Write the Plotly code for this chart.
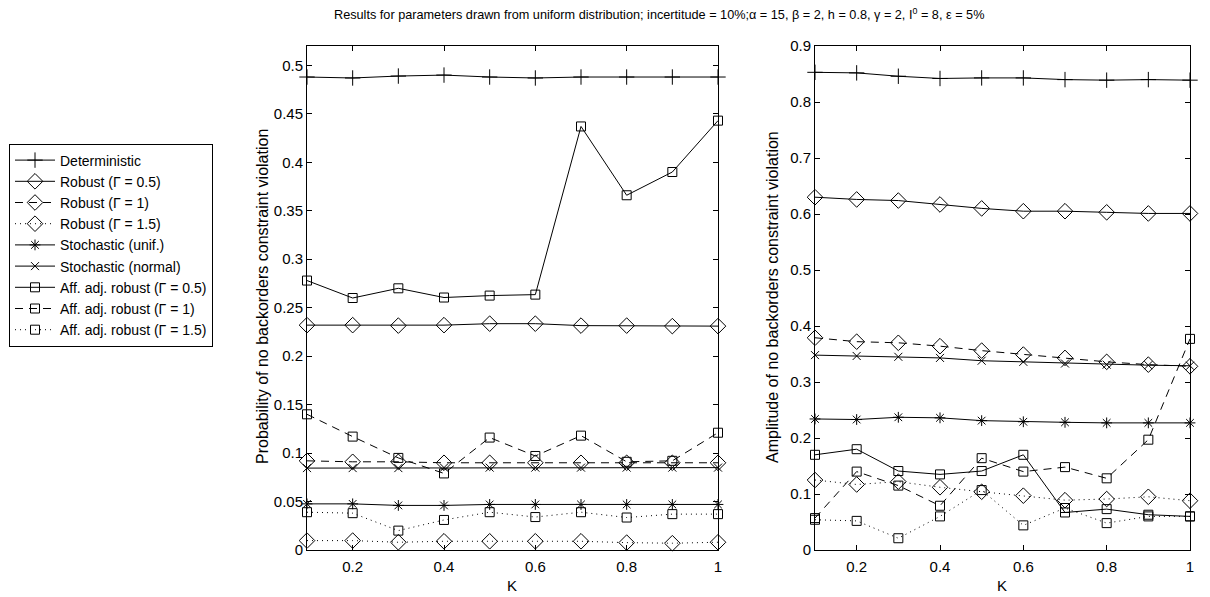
import plotly.graph_objects as go

K = [0.1, 0.2, 0.3, 0.4, 0.5, 0.6, 0.7, 0.8, 0.9, 1.0]

names = ["Deterministic", "Robust (\u0393 = 0.5)", "Robust (\u0393 = 1)", "Robust (\u0393 = 1.5)",
         "Stochastic (unif.)", "Stochastic (normal)", "Aff. adj. robust (\u0393 = 0.5)",
         "Aff. adj. robust (\u0393 = 1)", "Aff. adj. robust (\u0393 = 1.5)"]

# Probability of no backorders constraint violation
det_p = [0.488, 0.487, 0.489, 0.490, 0.488, 0.487, 0.488, 0.488, 0.488, 0.488]
rob05_p = [0.232, 0.232, 0.2315, 0.232, 0.2335, 0.2335, 0.2315, 0.2315, 0.231, 0.231]
rob1_p = [0.092, 0.091, 0.091, 0.090, 0.090, 0.090, 0.090, 0.090, 0.090, 0.090]
rob15_p = [0.0097, 0.0097, 0.008, 0.009, 0.009, 0.009, 0.009, 0.0076, 0.007, 0.008]
stu_p = [0.0476, 0.0476, 0.046, 0.046, 0.047, 0.047, 0.047, 0.047, 0.047, 0.047]
stn_p = [0.0845, 0.0845, 0.0845, 0.085, 0.085, 0.085, 0.085, 0.085, 0.085, 0.085]
aar05_p = [0.278, 0.260, 0.270, 0.2605, 0.2625, 0.2635, 0.437, 0.366, 0.390, 0.443]
aar1_p = [0.140, 0.117, 0.095, 0.079, 0.116, 0.097, 0.118, 0.091, 0.092, 0.121]
aar15_p = [0.039, 0.038, 0.020, 0.031, 0.039, 0.034, 0.039, 0.0335, 0.037, 0.037]

# Amplitude of no backorders constraint violation
det_a = [0.853, 0.852, 0.846, 0.842, 0.843, 0.843, 0.840, 0.839, 0.840, 0.839]
rob05_a = [0.630, 0.626, 0.624, 0.617, 0.610, 0.605, 0.605, 0.603, 0.601, 0.601]
rob1_a = [0.379, 0.372, 0.370, 0.364, 0.356, 0.349, 0.343, 0.336, 0.331, 0.328]
rob15_a = [0.125, 0.117, 0.122, 0.112, 0.104, 0.097, 0.089, 0.091, 0.095, 0.088]
stu_a = [0.234, 0.233, 0.237, 0.236, 0.231, 0.229, 0.228, 0.227, 0.227, 0.227]
stn_a = [0.348, 0.3465, 0.345, 0.343, 0.338, 0.336, 0.333, 0.331, 0.330, 0.329]
aar05_a = [0.170, 0.180, 0.141, 0.135, 0.141, 0.170, 0.067, 0.073, 0.063, 0.060]
aar1_a = [0.057, 0.140, 0.115, 0.079, 0.164, 0.140, 0.148, 0.128, 0.197, 0.377]
aar15_a = [0.054, 0.052, 0.021, 0.060, 0.107, 0.044, 0.075, 0.048, 0.060, 0.060]

ytick_p = [0, 0.05, 0.1, 0.15, 0.2, 0.25, 0.3, 0.35, 0.4, 0.45, 0.5]
ytext_p = ["0", "0.05", "0.1", "0.15", "0.2", "0.25", "0.3", "0.35", "0.4", "0.45", "0.5"]
ytick_a = [0, 0.1, 0.2, 0.3, 0.4, 0.5, 0.6, 0.7, 0.8, 0.9]
ytext_a = ["0", "0.1", "0.2", "0.3", "0.4", "0.5", "0.6", "0.7", "0.8", "0.9"]
xtick = [0.2, 0.4, 0.6, 0.8, 1.0]
xtext = ["0.2", "0.4", "0.6", "0.8", "1"]

DASH = "8px,6px"
DOT = "1px,4px"
styles = [
    ("cross-thin-open", "solid", 11),
    ("diamond-open", "solid", 12),
    ("diamond-open", DASH, 12),
    ("diamond-open", DOT, 12),
    ("asterisk-open", "solid", 9),
    ("x-thin-open", "solid", 8),
    ("square-open", "solid", 9),
    ("square-open", DASH, 9),
    ("square-open", DOT, 9),
]

prob = [det_p, rob05_p, rob1_p, rob15_p, stu_p, stn_p, aar05_p, aar1_p, aar15_p]
ampl = [det_a, rob05_a, rob1_a, rob15_a, stu_a, stn_a, aar05_a, aar1_a, aar15_a]

FONT = "Liberation Sans, Arial, Helvetica, sans-serif"
fig = go.Figure()
for i, name in enumerate(names):
    sym, dash, size = styles[i]
    for j, (ys, xa, ya) in enumerate([(prob[i], "x", "y"), (ampl[i], "x2", "y2")]):
        fig.add_trace(go.Scatter(
            x=K, y=ys, xaxis=xa, yaxis=ya, name=name, legendgroup=name,
            showlegend=(j == 0), mode="lines+markers", cliponaxis=False,
            line=dict(color="black", width=1, dash=dash),
            marker=dict(symbol=sym, size=size, color="black",
                        line=dict(color="black", width=1)),
        ))

W, H = 1210, 597
axis_common = dict(showline=True, linecolor="black", linewidth=1, mirror="ticks",
                   ticks="inside", ticklen=5, tickcolor="black", showgrid=False,
                   zeroline=False, automargin=False,
                   tickfont=dict(family=FONT, size=15, color="black"))

fig.update_layout(
    template="none",
    width=W, height=H, margin=dict(l=0, r=0, t=0, b=0, pad=0, autoexpand=False),
    paper_bgcolor="white", plot_bgcolor="white",
    font=dict(family=FONT, size=14, color="black"),
    xaxis=dict(domain=[307 / W, 718 / W], range=[0.1, 1.0], tickvals=xtick, ticktext=xtext,
               anchor="y", ticklabelstandoff=3, **axis_common),
    yaxis=dict(domain=[1 - 550 / H, 1 - 46 / H], range=[0, 0.52], tickvals=ytick_p,
               ticktext=ytext_p, anchor="x", **axis_common),
    xaxis2=dict(domain=[815 / W, 1190 / W], range=[0.1, 1.0], tickvals=xtick, ticktext=xtext,
                anchor="y2", ticklabelstandoff=3, **axis_common),
    yaxis2=dict(domain=[1 - 550 / H, 1 - 46 / H], range=[0, 0.9], tickvals=ytick_a,
                ticktext=ytext_a, anchor="x2", **axis_common),
    legend=dict(x=9 / W, xanchor="left", y=1 - 245 / H, yanchor="middle",
                bordercolor="black", borderwidth=1, bgcolor="white",
                font=dict(family=FONT, size=14, color="black"), tracegroupgap=0,
                itemwidth=40),
    annotations=[
        dict(text="Results for parameters drawn from uniform distribution; incertitude = 10%;"
                  "\u03b1 = 15, \u03b2 = 2, h = 0.8, \u03b3 = 2, I<sup>0</sup> = 8, \u03b5 = 5%",
             xref="paper", yref="paper", x=659 / W, y=1 - 14 / H, xanchor="center",
             yanchor="middle", showarrow=False, font=dict(family=FONT, size=12.7)),
        dict(text="Probability of no backorders constraint violation", textangle=-90,
             xref="paper", yref="paper", x=262 / W, y=1 - 297 / H, xanchor="center",
             yanchor="middle", showarrow=False, font=dict(family=FONT, size=16)),
        dict(text="Amplitude of no backorders constraint violation", textangle=-90,
             xref="paper", yref="paper", x=772 / W, y=1 - 297 / H, xanchor="center",
             yanchor="middle", showarrow=False, font=dict(family=FONT, size=16)),
        dict(text="K", xref="paper", yref="paper", x=512 / W, y=1 - 585 / H,
             xanchor="center", yanchor="middle", showarrow=False, font=dict(family=FONT, size=15)),
        dict(text="K", xref="paper", yref="paper", x=1002 / W, y=1 - 585 / H,
             xanchor="center", yanchor="middle", showarrow=False, font=dict(family=FONT, size=15)),
    ],
)

fig.write_html("out.html")
